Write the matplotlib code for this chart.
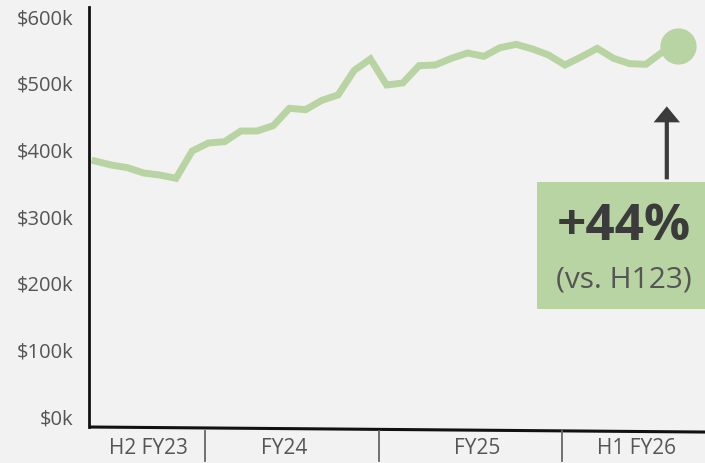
import numpy as np
import matplotlib.pyplot as plt
from matplotlib.patches import Rectangle, FancyArrowPatch
import matplotlib.transforms as mtransforms

plt.rcParams['font.family'] = ['Open Sans', 'DejaVu Sans']

# monthly revenue, $k
revenue = [382, 376, 372, 364, 361, 356, 397, 409, 411, 427, 427, 435,
           461, 459, 473, 481, 518, 535, 496, 499, 525, 526, 536, 544,
           539, 552, 557, 550, 541, 526, 538, 551, 536, 528, 527, 545, 554]
period_labels = ['H2 FY23', 'FY24', 'FY25', 'H1 FY26']
period_centers = [3.3, 11.7, 23.6, 33.4]
period_breaks = [6.8, 17.5, 28.8]
yticks = [0, 100, 200, 300, 400, 500, 600]
ytick_labels = ['$%dk' % v for v in yticks]
change_text = '+44%'
change_note = '(vs. H123)'

green = '#b9d4a3'
grey = '#555555'
dark = '#3b3b3b'
bg = '#f2f2f2'

fig = plt.figure(figsize=(7.05, 4.64), dpi=100, facecolor=bg)
ax = fig.add_axes([89/705, 36/464, 616/705, 420/464], facecolor=bg)

x = np.arange(len(revenue))
ax.plot(x, revenue, color=green, lw=5, solid_joinstyle='miter', zorder=3)
ax.scatter(x[-1], revenue[-1], s=680, color=green, zorder=4, linewidths=0)

ax.set_xlim(-0.37, 37.65)
ax.set_ylim(-17, 613)

ax.set_yticks(yticks)
ax.set_yticklabels(ytick_labels)
ax.tick_params(axis='y', length=0, pad=11.5, labelsize=14.5, labelcolor=grey)
ax.set_xticks([])

for s in ['top', 'right', 'bottom']:
    ax.spines[s].set_visible(False)
ax.spines['left'].set_linewidth(2)
ax.spines['left'].set_color('#111111')

# slightly tilted baseline
ax.plot([0, 1], [0, -0.012], transform=ax.transAxes, color='#111111',
        lw=2.2, clip_on=False, solid_capstyle='butt')

trans = mtransforms.blended_transform_factory(ax.transData, ax.transAxes)
for b in period_breaks:
    ax.plot([b, b], [-0.01, -0.08], transform=trans, color='#666666',
            lw=1.3, clip_on=False)
for c, lab in zip(period_centers, period_labels):
    ax.text(c, -0.05, lab, transform=trans, ha='center', va='center',
            fontsize=15, color=grey)

# callout box
ax.add_patch(Rectangle((0.727, 0.281), 0.3, 0.302, transform=ax.transAxes,
                       facecolor=green, edgecolor='none', clip_on=False, zorder=2))
ax.text(0.869, 0.478, change_text, transform=ax.transAxes, ha='center',
        va='center', fontsize=37, fontweight='bold', color=dark, zorder=5)
ax.text(0.869, 0.352, change_note, transform=ax.transAxes, ha='center',
        va='center', fontsize=21.5, color=grey, zorder=5)

arrow = FancyArrowPatch((0.938, 0.583), (0.938, 0.77), transform=ax.transAxes,
                        arrowstyle='simple,head_length=11.5,head_width=19,tail_width=3',
                        mutation_scale=1, color=dark, lw=0, clip_on=False, zorder=5)
ax.add_patch(arrow)

fig.savefig('out.png', dpi=100, facecolor=bg)
